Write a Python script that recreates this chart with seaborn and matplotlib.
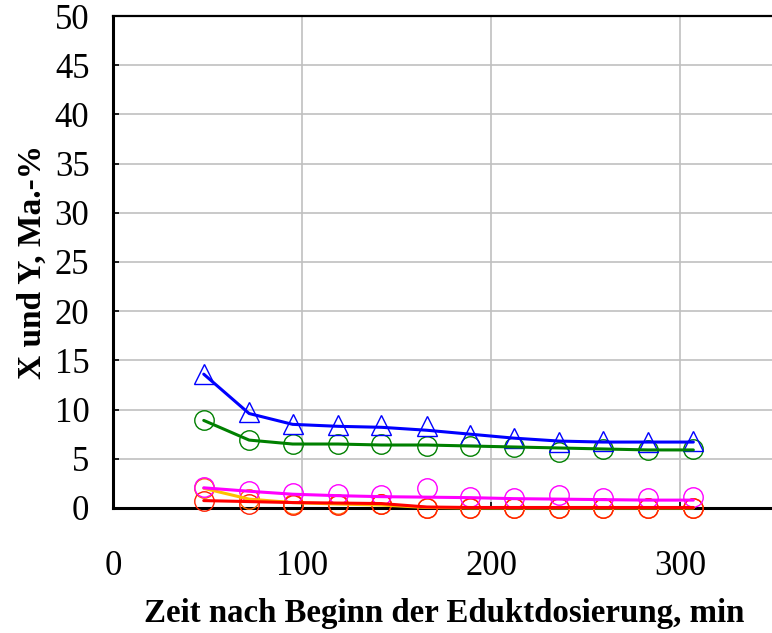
import matplotlib
matplotlib.use("Agg")
import matplotlib.pyplot as plt
import seaborn as sns
import pandas as pd

# ---- data ----
zeit = [48, 72, 95, 119, 142, 166, 189, 212, 236, 259, 283, 307]

blau_mess = [13.6, 9.8, 8.5, 8.4, 8.4, 8.3, 7.4, 7.1, 6.7, 6.8, 6.7, 6.8]
blau_kurve = [13.6, 9.6, 8.5, 8.3, 8.2, 7.9, 7.5, 7.1, 6.8, 6.7, 6.7, 6.7]
gruen_mess = [8.9, 6.9, 6.5, 6.5, 6.5, 6.3, 6.3, 6.2, 5.7, 6.0, 5.9, 6.0]
gruen_kurve = [8.9, 6.9, 6.5, 6.5, 6.4, 6.4, 6.3, 6.2, 6.1, 6.0, 5.9, 5.9]
magenta_mess = [2.1, 1.7, 1.5, 1.4, 1.35, 2.05, 1.1, 1.05, 1.3, 1.05, 1.05, 1.1]
magenta_kurve = [2.05, 1.7, 1.4, 1.25, 1.15, 1.1, 1.05, 0.95, 0.9, 0.85, 0.8, 0.8]
orange_mess = [2.0, 0.95, 0.4, 0.45, 0.4, 0.0, 0.0, 0.0, 0.0, 0.0, 0.0, 0.0]
orange_kurve = [2.0, 0.9, 0.55, 0.4, 0.3, 0.05, 0.0, 0.0, 0.0, 0.0, 0.0, 0.0]
rot_mess = [0.7, 0.45, 0.3, 0.35, 0.4, 0.0, 0.0, 0.0, 0.0, 0.0, 0.0, 0.0]
rot_kurve = [0.75, 0.65, 0.55, 0.5, 0.45, 0.1, 0.05, 0.05, 0.05, 0.05, 0.05, 0.05]

x_ticks = [0, 100, 200, 300]
y_ticks = [0, 5, 10, 15, 20, 25, 30, 35, 40, 45, 50]

sns.set_style("white")
plt.rcParams['font.family'] = ['Liberation Serif', 'DejaVu Serif']
plt.rcParams['text.color'] = 'black'
plt.rcParams['axes.labelcolor'] = 'black'
plt.rcParams['xtick.color'] = 'black'
plt.rcParams['ytick.color'] = 'black'

fig = plt.figure(figsize=(7.72, 6.33), dpi=100)
ax = fig.add_axes([0.1464, 0.1975, 0.857, 0.7772])

series = [
    (orange_mess, orange_kurve, '#FF6A00', '#FFC000', 'o'),
    (rot_mess, rot_kurve, '#FF2000', '#FF0000', 'o'),
    (magenta_mess, magenta_kurve, '#FF00FF', '#FF00FF', 'o'),
    (gruen_mess, gruen_kurve, '#008000', '#008000', 'o'),
    (blau_mess, blau_kurve, '#0000FF', '#0000FF', '^'),
]

for mess, kurve, mcol, lcol, mk in series:
    df_m = pd.DataFrame({'t': zeit, 'v': mess})
    sns.lineplot(data=df_m, x='t', y='v', ax=ax, linestyle='', marker=mk,
                 markersize=14, markerfacecolor='none', markeredgecolor=mcol,
                 markeredgewidth=1.0, color=mcol, clip_on=False, zorder=4,
                 estimator=None, sort=False)

for mess, kurve, mcol, lcol, mk in series:
    df_k = pd.DataFrame({'t': zeit, 'v': kurve})
    sns.lineplot(data=df_k, x='t', y='v', ax=ax, color=lcol, linewidth=2.2,
                 clip_on=False, zorder=5, estimator=None, sort=False)

ax.set_xlim(0, 350)
ax.set_ylim(0, 50)
ax.set_xticks(x_ticks)
ax.set_yticks(y_ticks)
ax.set_xticklabels([str(v) for v in x_ticks])
ax.set_yticklabels([str(v) for v in y_ticks])

ax.grid(True, color='#C0C0C0', linewidth=1.2)
ax.set_axisbelow(True)

for side in ['left', 'bottom', 'top']:
    ax.spines[side].set_visible(True)
    ax.spines[side].set_color('black')
ax.spines['left'].set_linewidth(2.2)
ax.spines['bottom'].set_linewidth(2.2)
ax.spines['top'].set_linewidth(1.6)
ax.spines['right'].set_visible(False)
ax.spines['bottom'].set_zorder(3)

ax.tick_params(axis='y', direction='in', length=4, width=1.2, labelsize=25,
               pad=17, left=True, colors='black')
ax.tick_params(axis='x', direction='in', length=4, width=1.2, labelsize=25,
               pad=30, bottom=True, colors='black')

ax.set_xlabel('Zeit nach Beginn der Eduktdosierung, min', fontsize=23.7,
              fontweight='bold', labelpad=11, color='black')
ax.set_ylabel('X und Y, Ma.-%', fontsize=24, fontweight='bold', labelpad=5,
              color='black')

fig.savefig('out.png', dpi=100)
